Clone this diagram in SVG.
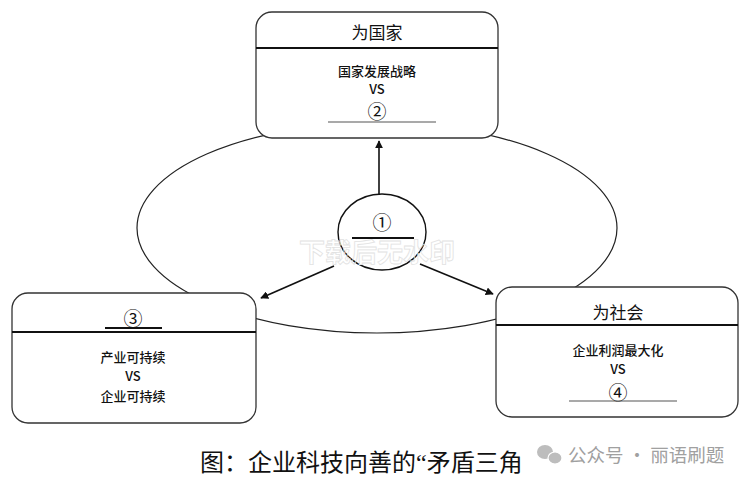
<svg xmlns="http://www.w3.org/2000/svg" width="752" height="485" viewBox="0 0 752 485">
<defs>
<marker id="ah" viewBox="0 0 10 10" refX="9" refY="5" markerWidth="8" markerHeight="8" markerUnits="userSpaceOnUse" orient="auto">
<path d="M0,0 L10,5 L0,10 z" fill="#111"/>
</marker>
<style>
.box{fill:#fff;stroke:#333;stroke-width:1.3}
.div{stroke:#111;stroke-width:2}
.ul{stroke:#555;stroke-width:1.2}
.ttl{font-family:"Noto Sans CJK SC","Noto Sans",sans-serif;font-size:17px;fill:#111;text-anchor:middle}
.bd{font-family:"Noto Sans CJK SC","Noto Sans",sans-serif;font-size:13px;fill:#111;text-anchor:middle;font-weight:500}
.num{font-family:"Noto Sans CJK SC","DejaVu Sans",sans-serif;font-size:19px;fill:#111;text-anchor:middle}
.con{stroke:#111;stroke-width:1.6;fill:none}
</style>
</defs>
<rect width="752" height="485" fill="#fff"/>
<ellipse cx="377" cy="228" rx="240" ry="105" fill="none" stroke="#222" stroke-width="1.2"/>
<g id="node-country">
<rect class="box" x="256" y="12" width="242" height="126" rx="16"/>
<line class="div" x1="256" y1="48" x2="498" y2="48"/>
<text class="ttl" x="377" y="39">为国家</text>
<text class="bd" x="377" y="76">国家发展战略</text>
<text class="bd" x="377" y="94">VS</text>
<text class="num" x="377" y="119">②</text>
<line class="ul" x1="328" y1="122" x2="436" y2="122"/>
</g>
<g id="node-industry">
<rect class="box" x="12" y="293" width="244" height="130" rx="16"/>
<line class="div" x1="12" y1="332" x2="256" y2="332"/>
<text class="num" x="133" y="326">③</text>
<line class="div" x1="105" y1="328" x2="162" y2="328"/>
<text class="bd" x="133" y="362">产业可持续</text>
<text class="bd" x="133" y="381">VS</text>
<text class="bd" x="133" y="401">企业可持续</text>
</g>
<g id="node-society">
<rect class="box" x="496" y="287" width="242" height="130" rx="16"/>
<line class="div" x1="496" y1="325" x2="738" y2="325"/>
<text class="ttl" x="618" y="319">为社会</text>
<text class="bd" x="618" y="355">企业利润最大化</text>
<text class="bd" x="618" y="374">VS</text>
<text class="num" x="618" y="400">④</text>
<line class="ul" x1="569" y1="401" x2="677" y2="401"/>
</g>
<g id="node-center">
<ellipse cx="382" cy="232" rx="44" ry="38" fill="#fff" stroke="#111" stroke-width="1.4"/>
<text class="num" x="382" y="230">①</text>
<line class="div" x1="352" y1="238" x2="414" y2="238"/>
</g>
<g id="connectors">
<line class="con" x1="379" y1="194" x2="379" y2="141" marker-end="url(#ah)"/>
<line class="con" x1="334" y1="266" x2="261" y2="298" marker-end="url(#ah)"/>
<line class="con" x1="420" y1="264" x2="493" y2="294" marker-end="url(#ah)"/>
</g>
<text x="377" y="262" font-family="Noto Sans CJK SC,sans-serif" font-size="26" font-weight="bold" fill="none" stroke="#e2e2e2" stroke-width="0.8" text-anchor="middle">下载后无水印</text>
<text x="200" y="471" font-family="Liberation Serif,Noto Sans CJK SC,serif" font-size="24" fill="#111">图：企业科技向善的“矛盾三角</text>
<g id="wechat-mark" fill="#bdbdbd">
<ellipse cx="545" cy="452" rx="8" ry="7"/>
<ellipse cx="555" cy="458" rx="7" ry="6" stroke="#fff" stroke-width="1.2"/>
</g>
<text x="568" y="462" font-family="Noto Sans CJK SC,sans-serif" font-size="18.5" fill="#a0a0a0">公众号 · 丽语刷题</text>
</svg>
